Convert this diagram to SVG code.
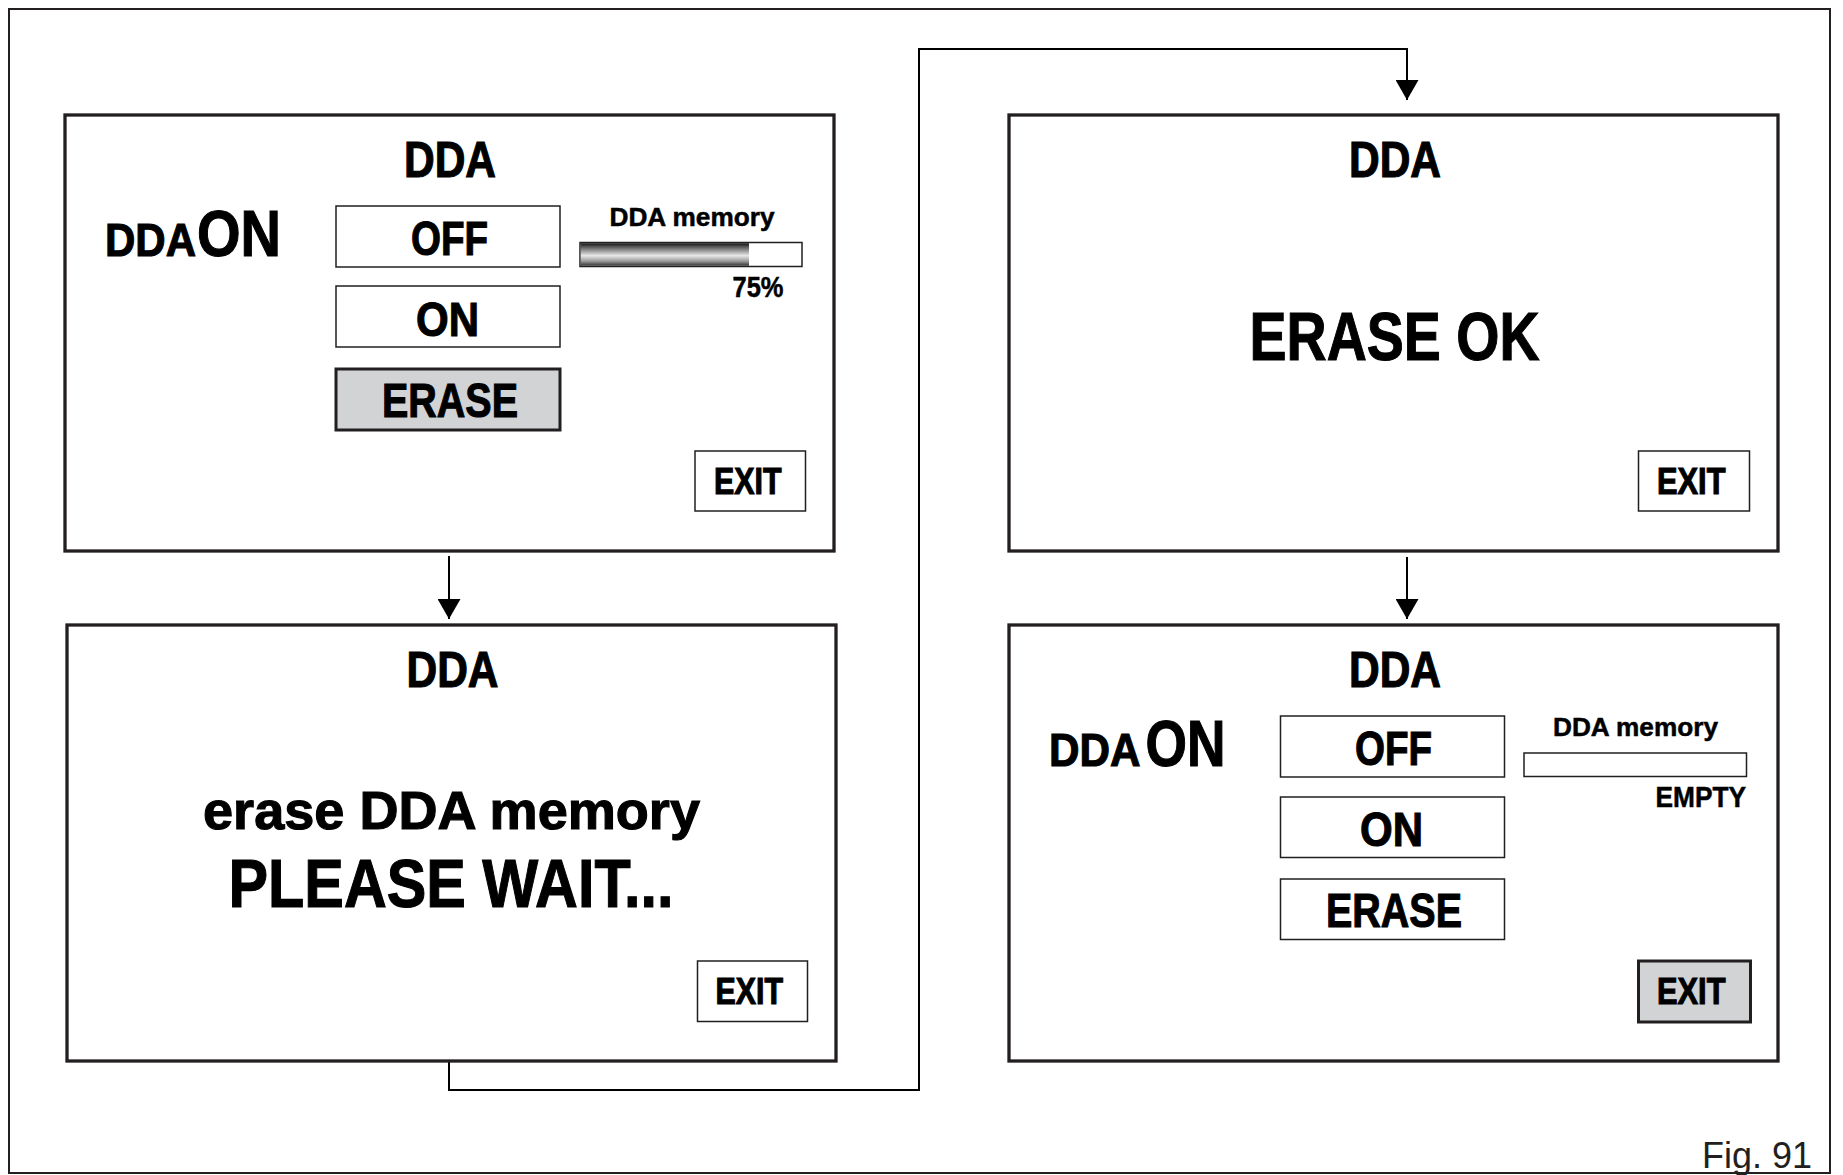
<svg xmlns="http://www.w3.org/2000/svg" width="1843" height="1175" viewBox="0 0 1843 1175">
<style>
.frame{fill:none;stroke:#231f20;stroke-width:2}
.box{fill:#fff;stroke:#231f20;stroke-width:3.3}
.btn{fill:#fff;stroke:#231f20;stroke-width:1.5}
.sel{fill:#d1d3d4;stroke:#231f20;stroke-width:3}
.bar{fill:#fff;stroke:#231f20;stroke-width:1.5}
.t{font-family:"Liberation Sans Narrow","Liberation Sans",Arial,sans-serif;font-weight:bold;fill:#000;stroke:#000;stroke-width:1.1}
.s{stroke-width:0.5}
.con{fill:none;stroke:#000;stroke-width:2}
.fig{font-family:"Liberation Sans",Arial,sans-serif;font-weight:normal;fill:#231f20;font-size:36px}
</style>
<defs>
<marker id="ah" viewBox="0 0 20 23" refX="20" refY="11.5" markerWidth="20" markerHeight="23" markerUnits="userSpaceOnUse" orient="auto">
<path d="M0,0 L20,11.5 L0,23 Z" fill="#000"/>
</marker>
<linearGradient id="metal" x1="0" y1="0" x2="0" y2="1">
<stop offset="0" stop-color="#111"/>
<stop offset="0.15" stop-color="#555"/>
<stop offset="0.55" stop-color="#e8e8e8"/>
<stop offset="0.8" stop-color="#999"/>
<stop offset="1" stop-color="#333"/>
</linearGradient>
</defs>
<rect x="0" y="0" width="1843" height="1175" fill="#fff"/>
<rect class="frame" x="9" y="9" width="1821" height="1164"/>

<g id="connectors">
<line class="con" x1="449" y1="556" x2="449" y2="619" marker-end="url(#ah)"/>
<line class="con" x1="1407" y1="557" x2="1407" y2="619" marker-end="url(#ah)"/>
<path class="con" d="M449,1061 V1090 H919 V49 H1407 V100" marker-end="url(#ah)"/>
</g>

<g id="screen1">
<rect class="box" x="65" y="115" width="769" height="436"/>
<text class="t" x="404" y="177" font-size="50" textLength="92" lengthAdjust="spacingAndGlyphs">DDA</text>
<text class="t" x="105" y="256" font-size="47" textLength="91" lengthAdjust="spacingAndGlyphs">DDA</text>
<text class="t" x="197" y="256" font-size="64" textLength="84" lengthAdjust="spacingAndGlyphs">ON</text>
<rect class="btn" x="336" y="206" width="224" height="61"/>
<text class="t" x="411" y="254.5" font-size="49" textLength="77" lengthAdjust="spacingAndGlyphs">OFF</text>
<rect class="btn" x="336" y="286" width="224" height="61"/>
<text class="t" x="416" y="335.5" font-size="49" textLength="63" lengthAdjust="spacingAndGlyphs">ON</text>
<rect class="sel" x="336" y="369" width="224" height="61"/>
<text class="t" x="382" y="417" font-size="48" textLength="136" lengthAdjust="spacingAndGlyphs">ERASE</text>
<text class="t s" x="609.5" y="225.5" font-size="26" textLength="165" lengthAdjust="spacingAndGlyphs">DDA memory</text>
<rect class="bar" x="580" y="242.5" width="222" height="24"/>
<rect x="580.75" y="243.25" width="168.25" height="22.5" fill="url(#metal)"/>
<text class="t s" x="732.5" y="296.5" font-size="30" textLength="51" lengthAdjust="spacingAndGlyphs">75%</text>
<rect class="btn" x="695" y="451" width="110.5" height="60"/>
<text class="t" x="714" y="493.5" font-size="37" textLength="67.5" lengthAdjust="spacingAndGlyphs">EXIT</text>
</g>

<g id="screen2">
<rect class="box" x="67" y="625" width="769" height="436"/>
<text class="t" x="406.5" y="687" font-size="50" textLength="92" lengthAdjust="spacingAndGlyphs">DDA</text>
<text class="t" x="203" y="829" font-size="53" textLength="497" lengthAdjust="spacingAndGlyphs">erase DDA memory</text>
<text class="t" x="228.5" y="906.5" font-size="69" textLength="445" lengthAdjust="spacingAndGlyphs">PLEASE WAIT...</text>
<rect class="btn" x="697.5" y="961" width="110" height="60.5"/>
<text class="t" x="715.5" y="1004" font-size="37" textLength="67.5" lengthAdjust="spacingAndGlyphs">EXIT</text>
</g>

<g id="screen3">
<rect class="box" x="1009" y="115" width="769" height="436"/>
<text class="t" x="1349" y="177" font-size="50" textLength="92" lengthAdjust="spacingAndGlyphs">DDA</text>
<text class="t" x="1249.5" y="359.5" font-size="69" textLength="290" lengthAdjust="spacingAndGlyphs">ERASE OK</text>
<rect class="btn" x="1638.5" y="451" width="111" height="60"/>
<text class="t" x="1657" y="493.5" font-size="37" textLength="68.5" lengthAdjust="spacingAndGlyphs">EXIT</text>
</g>

<g id="screen4">
<rect class="box" x="1009" y="625" width="769" height="436"/>
<text class="t" x="1349" y="687" font-size="50" textLength="92" lengthAdjust="spacingAndGlyphs">DDA</text>
<text class="t" x="1049" y="766" font-size="47" textLength="91.5" lengthAdjust="spacingAndGlyphs">DDA</text>
<text class="t" x="1145.5" y="766" font-size="64" textLength="80" lengthAdjust="spacingAndGlyphs">ON</text>
<rect class="btn" x="1280.5" y="716" width="224" height="61"/>
<text class="t" x="1355" y="764.5" font-size="49" textLength="77" lengthAdjust="spacingAndGlyphs">OFF</text>
<rect class="btn" x="1280.5" y="797" width="224" height="60.5"/>
<text class="t" x="1360" y="845.5" font-size="49" textLength="63" lengthAdjust="spacingAndGlyphs">ON</text>
<rect class="btn" x="1280.5" y="879" width="224" height="60.5"/>
<text class="t" x="1326" y="927" font-size="48" textLength="136" lengthAdjust="spacingAndGlyphs">ERASE</text>
<text class="t s" x="1553" y="735.5" font-size="26" textLength="165" lengthAdjust="spacingAndGlyphs">DDA memory</text>
<rect class="bar" x="1524" y="753" width="222.5" height="23.5"/>
<text class="t s" x="1655.5" y="806.5" font-size="30" textLength="90.5" lengthAdjust="spacingAndGlyphs">EMPTY</text>
<rect class="sel" x="1638.5" y="961" width="112" height="61"/>
<text class="t" x="1657" y="1004" font-size="37" textLength="68.5" lengthAdjust="spacingAndGlyphs">EXIT</text>
</g>

<text class="fig" x="1702" y="1168" textLength="110" lengthAdjust="spacingAndGlyphs">Fig. 91</text>
</svg>
